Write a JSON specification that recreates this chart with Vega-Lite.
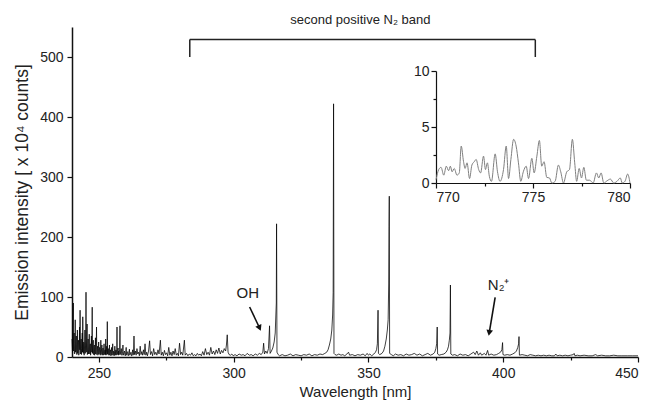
{
"$schema": "https://vega.github.io/schema/vega-lite/v6.json",
"width": 566, "height": 330,
"autosize": {"type": "none"},
"padding": {"left": 72, "top": 27, "right": 11, "bottom": 49},
"background": "white",
"config": {"view": {"stroke": null}, "font": "Liberation Sans",
  "axis": {"domainColor": "#111", "domainWidth": 1.5, "tickColor": "#111", "tickWidth": 1.2, "labelFontSize": 14, "labelColor": "#222", "titleFontSize": 15, "titleFontWeight": "normal", "titleColor": "#222", "grid": false}},
"datasets": {
"spec": [
{"w":240.0,"i":30},{"w":240.1,"i":18},{"w":240.2,"i":8},{"w":240.3,"i":25},{"w":240.4,"i":55},{"w":240.5,"i":90},{"w":240.55,"i":12},{"w":240.6,"i":10},{"w":240.7,"i":28},{"w":240.8,"i":40},{"w":240.9,"i":6},{"w":241.0,"i":5},{"w":241.1,"i":22},{"w":241.2,"i":62},{"w":241.3,"i":8},{"w":241.4,"i":12},{"w":241.5,"i":26},{"w":241.6,"i":35},{"w":241.7,"i":10},{"w":241.8,"i":4},{"w":241.9,"i":20},{"w":242.0,"i":45},{"w":242.1,"i":6},{"w":242.2,"i":10},{"w":242.3,"i":24},{"w":242.4,"i":28},{"w":242.5,"i":3},{"w":242.6,"i":6},{"w":242.7,"i":20},{"w":242.8,"i":50},{"w":242.9,"i":12},{"w":243.0,"i":78},{"w":243.1,"i":5},{"w":243.2,"i":8},{"w":243.3,"i":22},{"w":243.4,"i":30},{"w":243.5,"i":4},{"w":243.6,"i":14},{"w":243.7,"i":25},{"w":243.8,"i":40},{"w":243.9,"i":8},{"w":244.0,"i":67},{"w":244.1,"i":15},{"w":244.2,"i":6},{"w":244.3,"i":20},{"w":244.4,"i":25},{"w":244.5,"i":3},{"w":244.6,"i":10},{"w":244.7,"i":24},{"w":244.8,"i":45},{"w":244.9,"i":6},{"w":245.0,"i":15},{"w":245.1,"i":30},{"w":245.2,"i":108},{"w":245.3,"i":8},{"w":245.4,"i":20},{"w":245.5,"i":30},{"w":245.6,"i":55},{"w":245.7,"i":4},{"w":245.8,"i":8},{"w":245.9,"i":22},{"w":246.0,"i":30},{"w":246.1,"i":5},{"w":246.2,"i":12},{"w":246.3,"i":20},{"w":246.4,"i":38},{"w":246.5,"i":10},{"w":246.6,"i":5},{"w":246.7,"i":18},{"w":246.8,"i":22},{"w":246.9,"i":3},{"w":247.0,"i":10},{"w":247.1,"i":20},{"w":247.2,"i":35},{"w":247.35,"i":8},{"w":247.5,"i":83},{"w":247.6,"i":6},{"w":247.7,"i":15},{"w":247.8,"i":22},{"w":247.9,"i":28},{"w":248.0,"i":4},{"w":248.1,"i":5},{"w":248.2,"i":18},{"w":248.3,"i":20},{"w":248.4,"i":3},{"w":248.5,"i":8},{"w":248.6,"i":16},{"w":248.7,"i":32},{"w":248.8,"i":5},{"w":248.9,"i":12},{"w":249.0,"i":20},{"w":249.1,"i":50},{"w":249.2,"i":4},{"w":249.3,"i":6},{"w":249.4,"i":15},{"w":249.5,"i":18},{"w":249.6,"i":3},{"w":249.7,"i":4},{"w":249.8,"i":14},{"w":249.9,"i":25},{"w":250.0,"i":5},{"w":250.1,"i":8},{"w":250.2,"i":16},{"w":250.3,"i":15},{"w":250.4,"i":4},{"w":250.5,"i":3},{"w":250.6,"i":12},{"w":250.7,"i":28},{"w":250.8,"i":4},{"w":250.9,"i":10},{"w":251.0,"i":14},{"w":251.1,"i":20},{"w":251.2,"i":3},{"w":251.3,"i":4},{"w":251.4,"i":12},{"w":251.5,"i":15},{"w":251.6,"i":3},{"w":251.7,"i":6},{"w":251.8,"i":14},{"w":251.9,"i":22},{"w":252.0,"i":4},{"w":252.1,"i":5},{"w":252.2,"i":11},{"w":252.3,"i":12},{"w":252.4,"i":4},{"w":252.5,"i":30},{"w":252.6,"i":3},{"w":252.7,"i":8},{"w":252.8,"i":12},{"w":252.9,"i":18},{"w":253.0,"i":4},{"w":253.1,"i":59},{"w":253.2,"i":5},{"w":253.3,"i":6},{"w":253.4,"i":12},{"w":253.5,"i":14},{"w":253.6,"i":3},{"w":253.7,"i":4},{"w":253.8,"i":10},{"w":253.9,"i":20},{"w":254.0,"i":3},{"w":254.1,"i":7},{"w":254.2,"i":10},{"w":254.3,"i":12},{"w":254.4,"i":2},{"w":254.5,"i":3},{"w":254.6,"i":9},{"w":254.7,"i":16},{"w":254.8,"i":3},{"w":254.9,"i":6},{"w":255.0,"i":10},{"w":255.1,"i":22},{"w":255.2,"i":3},{"w":255.3,"i":4},{"w":255.4,"i":9},{"w":255.5,"i":10},{"w":255.6,"i":2},{"w":255.7,"i":3},{"w":255.8,"i":9},{"w":255.9,"i":18},{"w":256.0,"i":3},{"w":256.1,"i":5},{"w":256.2,"i":10},{"w":256.3,"i":12},{"w":256.4,"i":3},{"w":256.5,"i":8},{"w":256.6,"i":12},{"w":256.7,"i":50},{"w":256.8,"i":4},{"w":256.9,"i":6},{"w":257.0,"i":9},{"w":257.1,"i":15},{"w":257.2,"i":3},{"w":257.3,"i":10},{"w":257.4,"i":8},{"w":257.5,"i":4},{"w":257.65,"i":12},{"w":257.8,"i":52},{"w":257.9,"i":4},{"w":258.0,"i":6},{"w":258.15,"i":10},{"w":258.3,"i":14},{"w":258.45,"i":3},{"w":258.6,"i":3},{"w":258.75,"i":9},{"w":258.9,"i":20},{"w":259.05,"i":3},{"w":259.2,"i":5},{"w":259.35,"i":8},{"w":259.5,"i":10},{"w":259.65,"i":3},{"w":259.8,"i":2},{"w":259.95,"i":9},{"w":260.1,"i":16},{"w":260.25,"i":3},{"w":260.4,"i":4},{"w":260.55,"i":8},{"w":260.7,"i":9},{"w":260.85,"i":2},{"w":261.0,"i":3},{"w":261.15,"i":8},{"w":261.3,"i":13},{"w":261.45,"i":3},{"w":261.6,"i":5},{"w":261.75,"i":7},{"w":261.9,"i":8},{"w":262.05,"i":2},{"w":262.2,"i":2},{"w":262.35,"i":7},{"w":262.5,"i":12},{"w":262.65,"i":3},{"w":262.8,"i":5},{"w":263.0,"i":35},{"w":263.2,"i":4},{"w":263.5,"i":10},{"w":263.8,"i":3},{"w":264.1,"i":14},{"w":264.4,"i":5},{"w":264.7,"i":8},{"w":265.0,"i":2},{"w":265.3,"i":18},{"w":265.6,"i":4},{"w":265.9,"i":9},{"w":266.2,"i":3},{"w":266.5,"i":12},{"w":266.8,"i":4},{"w":267.1,"i":22},{"w":267.4,"i":3},{"w":267.7,"i":8},{"w":268.0,"i":2},{"w":268.4,"i":10},{"w":268.8,"i":27},{"w":269.1,"i":4},{"w":269.5,"i":9},{"w":269.9,"i":2},{"w":270.3,"i":14},{"w":270.7,"i":4},{"w":271.1,"i":8},{"w":271.5,"i":3},{"w":271.9,"i":12},{"w":272.3,"i":5},{"w":272.8,"i":28},{"w":273.1,"i":3},{"w":273.5,"i":8},{"w":273.9,"i":2},{"w":274.3,"i":11},{"w":274.7,"i":4},{"w":275.1,"i":7},{"w":275.5,"i":2},{"w":275.9,"i":16},{"w":276.3,"i":3},{"w":276.7,"i":8},{"w":277.1,"i":2},{"w":277.5,"i":10},{"w":277.9,"i":4},{"w":278.3,"i":14},{"w":278.7,"i":3},{"w":279.1,"i":6},{"w":279.5,"i":2},{"w":279.9,"i":23},{"w":280.3,"i":4},{"w":280.7,"i":8},{"w":281.1,"i":3},{"w":281.7,"i":28},{"w":282.0,"i":3},{"w":282.5,"i":6},{"w":283.0,"i":2},{"w":283.5,"i":5},{"w":284.0,"i":3},{"w":284.5,"i":7},{"w":285.0,"i":2},{"w":285.5,"i":4},{"w":286.0,"i":2},{"w":286.5,"i":6},{"w":287.0,"i":3},{"w":287.5,"i":5},{"w":288.0,"i":2},{"w":288.5,"i":9},{"w":289.0,"i":3},{"w":289.5,"i":14},{"w":290.0,"i":4},{"w":290.5,"i":8},{"w":291.0,"i":3},{"w":291.5,"i":16},{"w":292.0,"i":5},{"w":292.5,"i":10},{"w":293.0,"i":4},{"w":293.5,"i":12},{"w":294.0,"i":6},{"w":294.5,"i":15},{"w":295.0,"i":5},{"w":295.5,"i":11},{"w":296.0,"i":7},{"w":296.5,"i":14},{"w":297.0,"i":10},{"w":297.3,"i":20},{"w":297.6,"i":37},{"w":297.9,"i":8},{"w":298.3,"i":4},{"w":298.8,"i":3},{"w":299.3,"i":5},{"w":299.8,"i":2},{"w":300.5,"i":4},{"w":301.2,"i":2},{"w":302.0,"i":5},{"w":302.8,"i":3},{"w":303.5,"i":4},{"w":304.2,"i":2},{"w":305.0,"i":6},{"w":305.8,"i":3},{"w":306.5,"i":4},{"w":307.2,"i":2},{"w":308.0,"i":5},{"w":308.8,"i":3},{"w":309.5,"i":6},{"w":310.2,"i":4},{"w":310.8,"i":8},{"w":311.1,"i":23},{"w":311.4,"i":5},{"w":311.9,"i":10},{"w":312.4,"i":6},{"w":312.9,"i":14},{"w":313.3,"i":52},{"w":313.5,"i":6},{"w":314.0,"i":10},{"w":314.5,"i":15},{"w":315.0,"i":25},{"w":315.4,"i":40},{"w":315.6,"i":65},{"w":315.8,"i":90},{"w":315.9,"i":222},{"w":316.05,"i":8},{"w":316.5,"i":4},{"w":317.0,"i":2},{"w":318.0,"i":4},{"w":319.0,"i":2},{"w":320.0,"i":3},{"w":321.0,"i":5},{"w":322.0,"i":2},{"w":323.0,"i":4},{"w":324.0,"i":3},{"w":325.0,"i":2},{"w":326.0,"i":4},{"w":327.0,"i":3},{"w":328.0,"i":5},{"w":329.0,"i":2},{"w":330.0,"i":4},{"w":331.0,"i":3},{"w":332.0,"i":5},{"w":333.0,"i":4},{"w":333.8,"i":6},{"w":334.5,"i":8},{"w":335.0,"i":12},{"w":335.5,"i":20},{"w":336.0,"i":30},{"w":336.4,"i":45},{"w":336.7,"i":70},{"w":336.9,"i":107},{"w":337.05,"i":422},{"w":337.2,"i":6},{"w":337.6,"i":4},{"w":338.2,"i":3},{"w":339.0,"i":5},{"w":339.8,"i":3},{"w":340.5,"i":4},{"w":341.2,"i":2},{"w":342.0,"i":5},{"w":342.6,"i":8},{"w":343.0,"i":3},{"w":344.0,"i":4},{"w":345.0,"i":2},{"w":346.0,"i":4},{"w":347.0,"i":3},{"w":348.0,"i":5},{"w":348.8,"i":2},{"w":349.5,"i":6},{"w":350.0,"i":3},{"w":350.5,"i":5},{"w":351.2,"i":2},{"w":352.0,"i":5},{"w":352.6,"i":8},{"w":353.0,"i":12},{"w":353.3,"i":22},{"w":353.55,"i":78},{"w":353.7,"i":6},{"w":354.2,"i":4},{"w":355.0,"i":6},{"w":355.6,"i":10},{"w":356.1,"i":18},{"w":356.6,"i":30},{"w":357.0,"i":45},{"w":357.3,"i":62},{"w":357.5,"i":120},{"w":357.62,"i":217},{"w":357.72,"i":268},{"w":357.85,"i":6},{"w":358.5,"i":4},{"w":359.2,"i":2},{"w":360.0,"i":5},{"w":361.0,"i":3},{"w":362.0,"i":4},{"w":363.0,"i":2},{"w":364.0,"i":5},{"w":365.0,"i":3},{"w":366.0,"i":4},{"w":367.0,"i":6},{"w":368.0,"i":3},{"w":369.0,"i":5},{"w":370.0,"i":2},{"w":371.0,"i":4},{"w":372.0,"i":6},{"w":373.0,"i":3},{"w":374.0,"i":5},{"w":374.6,"i":8},{"w":375.0,"i":14},{"w":375.3,"i":22},{"w":375.5,"i":50},{"w":375.65,"i":5},{"w":376.2,"i":3},{"w":377.0,"i":4},{"w":378.0,"i":5},{"w":378.8,"i":8},{"w":379.3,"i":12},{"w":379.7,"i":18},{"w":380.0,"i":28},{"w":380.25,"i":40},{"w":380.4,"i":120},{"w":380.55,"i":5},{"w":381.2,"i":3},{"w":382.0,"i":4},{"w":383.0,"i":2},{"w":384.0,"i":5},{"w":385.0,"i":3},{"w":386.0,"i":4},{"w":387.0,"i":2},{"w":388.0,"i":5},{"w":389.0,"i":8},{"w":389.6,"i":4},{"w":390.2,"i":10},{"w":390.8,"i":3},{"w":391.5,"i":7},{"w":392.0,"i":3},{"w":393.0,"i":6},{"w":393.6,"i":3},{"w":394.2,"i":11},{"w":394.6,"i":3},{"w":395.5,"i":5},{"w":396.5,"i":3},{"w":397.5,"i":4},{"w":398.3,"i":6},{"w":399.0,"i":8},{"w":399.5,"i":12},{"w":399.75,"i":24},{"w":399.9,"i":4},{"w":400.5,"i":3},{"w":401.5,"i":4},{"w":402.5,"i":3},{"w":403.5,"i":5},{"w":404.3,"i":7},{"w":404.9,"i":10},{"w":405.4,"i":16},{"w":405.7,"i":22},{"w":405.85,"i":34},{"w":406.0,"i":3},{"w":407.0,"i":4},{"w":408.0,"i":3},{"w":409.0,"i":2},{"w":410.0,"i":4},{"w":411.0,"i":3},{"w":412.0,"i":2},{"w":413.0,"i":3},{"w":414.0,"i":2},{"w":415.0,"i":3},{"w":416.0,"i":2},{"w":417.0,"i":3},{"w":418.0,"i":2},{"w":419.0,"i":2},{"w":419.5,"i":5},{"w":420.0,"i":2},{"w":421.0,"i":3},{"w":422.0,"i":2},{"w":423.0,"i":3},{"w":424.0,"i":2},{"w":425.0,"i":3},{"w":426.0,"i":4},{"w":426.3,"i":6},{"w":426.6,"i":2},{"w":427.5,"i":3},{"w":428.5,"i":2},{"w":430.0,"i":3},{"w":431.5,"i":2},{"w":433.0,"i":2},{"w":434.3,"i":4},{"w":435.0,"i":2},{"w":436.5,"i":3},{"w":438.0,"i":2},{"w":439.5,"i":2},{"w":441.0,"i":3},{"w":442.5,"i":2},{"w":444.0,"i":2},{"w":446.0,"i":2},{"w":448.0,"i":2},{"w":450.0,"i":2}
],
"inset": [
{"w":770.0,"i":0.3},{"w":770.14,"i":1.2},{"w":770.26,"i":1.4},{"w":770.4,"i":0.7},{"w":770.53,"i":1.5},{"w":770.65,"i":1.1},{"w":770.74,"i":1.5},{"w":770.83,"i":1.0},{"w":770.94,"i":1.3},{"w":771.08,"i":0.7},{"w":771.2,"i":0.9},{"w":771.3,"i":3.3},{"w":771.42,"i":1.9},{"w":771.5,"i":1.3},{"w":771.6,"i":1.8},{"w":771.73,"i":0.4},{"w":771.85,"i":1.6},{"w":771.97,"i":1.9},{"w":772.07,"i":2.1},{"w":772.2,"i":1.2},{"w":772.3,"i":0.9},{"w":772.45,"i":2.4},{"w":772.55,"i":1.2},{"w":772.65,"i":1.8},{"w":772.75,"i":0.6},{"w":772.86,"i":0.15},{"w":773.05,"i":2.6},{"w":773.17,"i":1.0},{"w":773.3,"i":0.15},{"w":773.48,"i":1.2},{"w":773.62,"i":3.3},{"w":773.74,"i":0.4},{"w":773.86,"i":2.1},{"w":774.0,"i":3.9},{"w":774.13,"i":3.3},{"w":774.25,"i":1.8},{"w":774.37,"i":0.15},{"w":774.5,"i":1.0},{"w":774.65,"i":1.5},{"w":774.77,"i":0.4},{"w":774.94,"i":2.2},{"w":775.06,"i":0.9},{"w":775.2,"i":2.4},{"w":775.33,"i":3.8},{"w":775.45,"i":1.5},{"w":775.57,"i":1.9},{"w":775.71,"i":0.5},{"w":775.85,"i":0.45},{"w":775.97,"i":0},{"w":776.14,"i":0.15},{"w":776.31,"i":1.6},{"w":776.43,"i":1.0},{"w":776.57,"i":0},{"w":776.74,"i":1.0},{"w":776.88,"i":1.2},{"w":777.03,"i":3.9},{"w":777.15,"i":1.8},{"w":777.25,"i":0.15},{"w":777.38,"i":1.3},{"w":777.5,"i":0.45},{"w":777.62,"i":1.4},{"w":777.75,"i":0.25},{"w":777.92,"i":0.25},{"w":778.1,"i":0},{"w":778.27,"i":0.9},{"w":778.39,"i":0.45},{"w":778.51,"i":0.9},{"w":778.65,"i":0},{"w":778.82,"i":0.2},{"w":778.99,"i":0.35},{"w":779.16,"i":0},{"w":779.33,"i":0.15},{"w":779.5,"i":0.45},{"w":779.6,"i":0},{"w":779.74,"i":0.15},{"w":779.88,"i":0.8},{"w":780.0,"i":0}
],
"bracket": [
{"w":283.7,"i":529,"w2":411.9,"i2":529},
{"w":283.7,"i":500,"w2":283.7,"i2":529},
{"w":411.9,"i":500,"w2":411.9,"i2":529}
],
"labels": [
{"w":347,"i":562,"t":"second positive N₂ band","k":"band"},
{"w":305.2,"i":107,"t":"OH","k":"ion"},
{"w":398.3,"i":120,"t":"N₂⁺","k":"ion"}
],
"arrows": [
{"k":"OH","w":305.9,"i":83.3,"w2":309.6,"i2":48.3},
{"k":"N2","w":397.0,"i":99.5,"w2":394.8,"i2":40.3}
]
},
"layer": [
 {"layer": [
  {"data": {"name": "spec"},
   "mark": {"type": "line", "color": "#000", "strokeWidth": 0.75, "clip": false},
   "encoding": {
    "x": {"field": "w", "type": "quantitative", "title": "Wavelength [nm]",
      "scale": {"domain": [240, 450], "nice": false, "zero": false},
      "axis": {"values": [250,275,300,325,350,375,400,425,450], "labelExpr": "datum.value % 50 === 0 ? datum.label : ''", "tickSize": {"condition": {"test": "datum.value % 50 === 0", "value": 5}, "value": 3}, "labelPadding": 4, "titlePadding": 4}},
    "y": {"field": "i", "type": "quantitative", "title": "Emission intensity [ x 10⁴ counts]",
      "scale": {"domain": [0, 550], "nice": false},
      "axis": {"values": [0,50,100,150,200,250,300,350,400,450,500,550], "labelExpr": "datum.value % 100 === 0 ? datum.label : ''", "tickSize": {"condition": {"test": "datum.value % 100 === 0", "value": 5}, "value": 3}, "labelPadding": 4, "titlePadding": 8, "titleFontSize": 17.5}}
   }},
  {"data": {"name": "bracket"},
   "mark": {"type": "rule", "color": "#222", "strokeWidth": 1.5},
   "encoding": {"x": {"field": "w", "type": "quantitative", "title": "Wavelength [nm]"}, "x2": {"field": "w2"}, "y": {"field": "i", "type": "quantitative", "title": "Emission intensity [ x 10⁴ counts]"}, "y2": {"field": "i2"}}},
  {"data": {"name": "labels"}, "transform": [{"filter": "datum.k === 'band'"}],
   "mark": {"type": "text", "fontSize": 13, "color": "#222", "baseline": "middle"},
   "encoding": {"x": {"field": "w", "type": "quantitative", "title": "Wavelength [nm]"}, "y": {"field": "i", "type": "quantitative", "title": "Emission intensity [ x 10⁴ counts]"}, "text": {"field": "t"}}},
  {"data": {"name": "labels"}, "transform": [{"filter": "datum.k === 'ion'"}],
   "mark": {"type": "text", "fontSize": 15, "color": "#222", "baseline": "middle"},
   "encoding": {"x": {"field": "w", "type": "quantitative", "title": "Wavelength [nm]"}, "y": {"field": "i", "type": "quantitative", "title": "Emission intensity [ x 10⁴ counts]"}, "text": {"field": "t"}}},
  {"data": {"name": "arrows"},
   "mark": {"type": "rule", "color": "#111", "strokeWidth": 1.6},
   "encoding": {"x": {"field": "w", "type": "quantitative", "title": "Wavelength [nm]"}, "x2": {"field": "w2"}, "y": {"field": "i", "type": "quantitative", "title": "Emission intensity [ x 10⁴ counts]"}, "y2": {"field": "i2"}}},
  {"data": {"name": "arrows"}, "transform": [{"filter": "datum.k === 'OH'"}],
   "mark": {"type": "point", "shape": "triangle-down", "filled": true, "color": "#111", "size": 45, "angle": -25, "opacity": 1},
   "encoding": {"x": {"field": "w2", "type": "quantitative", "title": "Wavelength [nm]"}, "y": {"field": "i2", "type": "quantitative", "title": "Emission intensity [ x 10⁴ counts]"}}},
  {"data": {"name": "arrows"}, "transform": [{"filter": "datum.k === 'N2'"}],
   "mark": {"type": "point", "shape": "triangle-down", "filled": true, "color": "#111", "size": 45, "angle": 10, "opacity": 1},
   "encoding": {"x": {"field": "w2", "type": "quantitative", "title": "Wavelength [nm]"}, "y": {"field": "i2", "type": "quantitative", "title": "Emission intensity [ x 10⁴ counts]"}}}
 ]},
 {"data": {"name": "inset"},
  "mark": {"type": "line", "color": "#808080", "strokeWidth": 1, "interpolate": "monotone"},
  "encoding": {
   "x": {"field": "w", "type": "quantitative", "title": null,
     "scale": {"domain": [770, 780], "range": [364, 558], "nice": false, "zero": false},
     "axis": {"orient": "bottom", "offset": -174, "values": [770, 772.5, 775, 777.5, 780], "labelExpr": "datum.value % 5 === 0 ? format(datum.value, 'd') : ''", "tickSize": {"condition": {"test": "datum.value % 5 === 0", "value": 5}, "value": 3}, "labelPadding": 2, "domainWidth": 1.2}},
   "y": {"field": "i", "type": "quantitative", "title": null,
     "scale": {"domain": [0, 10], "range": [156, 44], "nice": false},
     "axis": {"orient": "left", "offset": -364, "values": [0, 2.5, 5, 7.5, 10], "labelExpr": "datum.value % 5 === 0 ? format(datum.value, 'd') : ''", "tickSize": {"condition": {"test": "datum.value % 5 === 0", "value": 5}, "value": 3}, "labelPadding": 2, "domainWidth": 1.2}}
  }}
],
"resolve": {"scale": {"x": "independent", "y": "independent"}}
}
